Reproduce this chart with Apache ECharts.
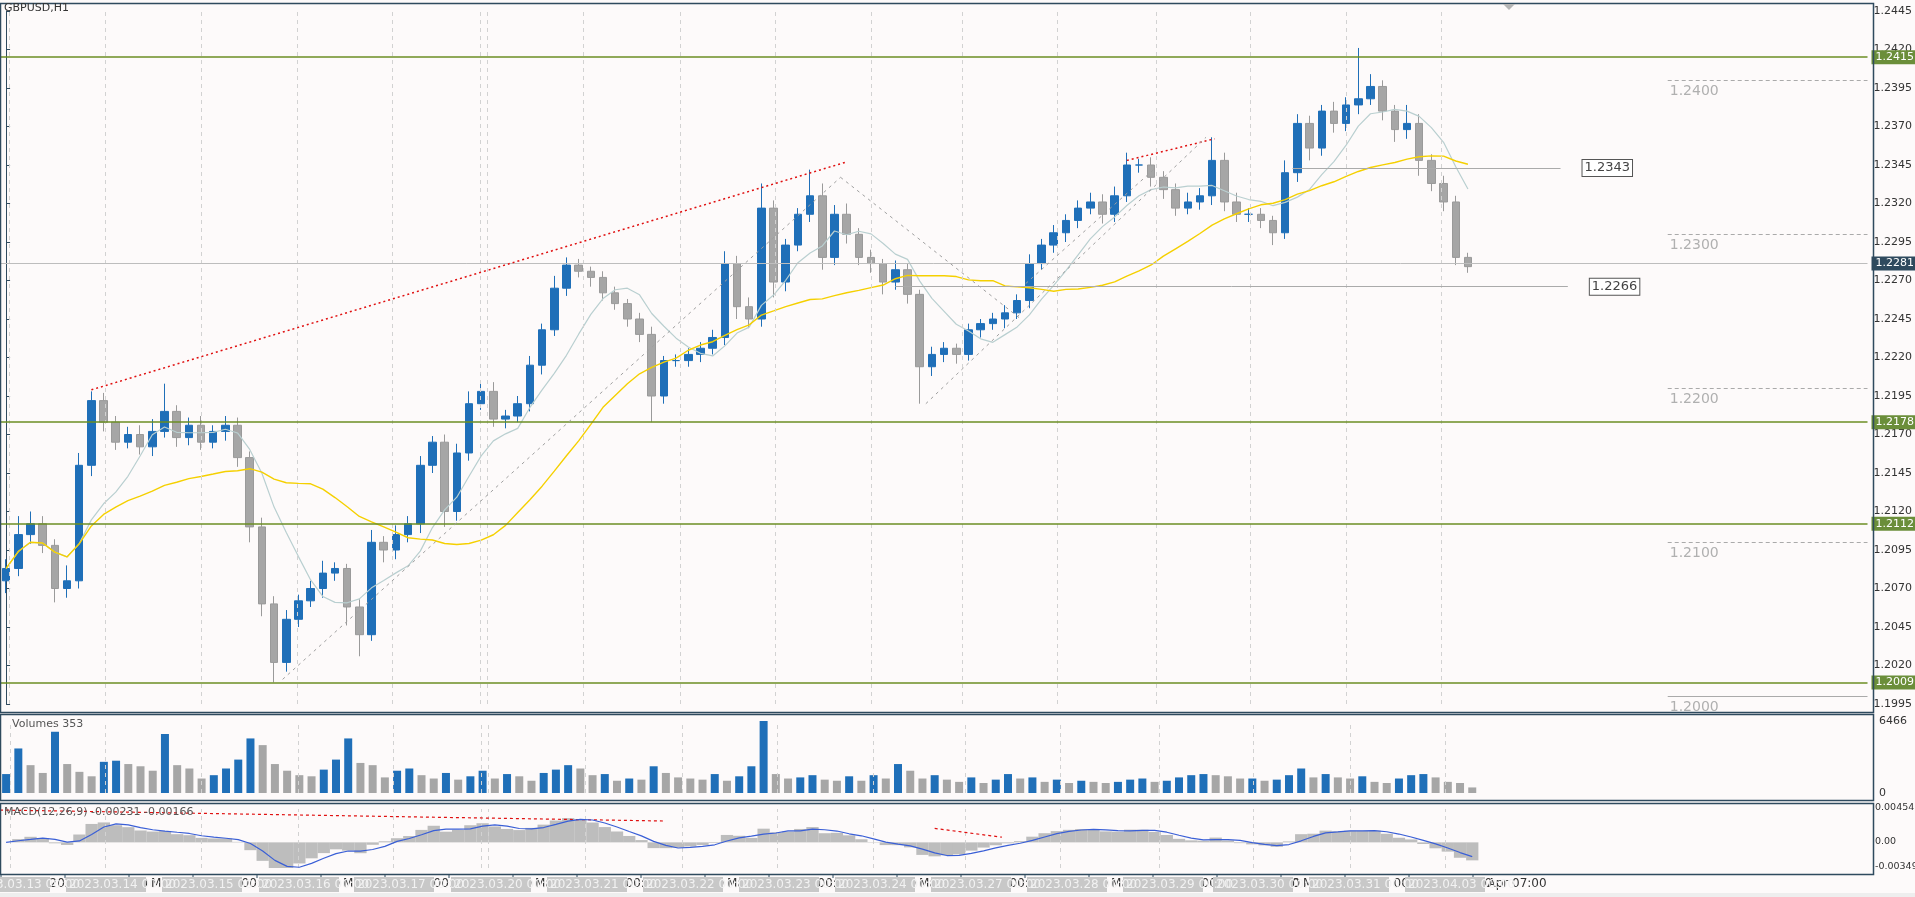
<!DOCTYPE html>
<html><head><meta charset="utf-8">
<script src="https://cdn.jsdelivr.net/npm/echarts@6/dist/echarts.min.js"></script>
<style>html,body{margin:0;padding:0;background:#fdfafa;}#c{width:1915px;height:897px;}</style>
</head><body><div id="c"></div>
<script>
// ---- data (one bar ≈ 3 hours) ----
const closes = [
1.2083,1.2105,1.2112,1.2098,1.2070,1.2075,1.2150,1.2192,1.2178,1.2165,
1.2170,1.2162,1.2172,1.2185,1.2168,1.2176,1.2165,1.2172,1.2176,1.2155,
1.2110,1.2060,1.2022,1.2050,1.2062,1.2070,1.2080,1.2083,1.2058,1.2040,
1.2100,1.2095,1.2105,1.2112,1.2150,1.2165,1.2120,1.2158,1.2190,1.2198,
1.2180,1.2182,1.2190,1.2215,1.2238,1.2265,1.2280,1.2276,1.2272,1.2262,
1.2255,1.2245,1.2235,1.2195,1.2218,1.2218,1.2222,1.2226,1.2233,1.2281,
1.2253,1.2245,1.2317,1.2269,1.2293,1.2313,1.2325,1.2285,1.2313,1.2300,
1.2285,1.2281,1.2269,1.2277,1.2261,1.2214,1.2222,1.2226,1.2222,1.2238,
1.2242,1.2245,1.2249,1.2257,1.2281,1.2293,1.2301,1.2309,1.2317,1.2321,
1.2313,1.2325,1.2345,1.2345,1.2337,1.2329,1.2317,1.2321,1.2325,1.2348,
1.2321,1.2313,1.2313,1.2309,1.2301,1.2340,1.2372,1.2356,1.2380,1.2372,
1.2384,1.2388,1.2396,1.2380,1.2368,1.2372,1.2348,1.2333,1.2321,1.2285,
1.2279];
const firstOpen = 1.2075;
const upperWickPips = [
6,12,8,5,4,10,8,6,5,4, 5,6,8,18,4,5,6,4,6,5, 4,6,5,6,4,5,8,4,3,5, 8,4,6,5,6,4,5,6,8,5,
6,4,5,6,4,8,5,4,3,4, 4,3,4,5,3,4,4,4,5,8, 5,6,16,5,4,4,17,8,6,7, 4,5,3,6,4,3,5,4,3,4,
3,4,5,4,6,4,5,4,5,6, 5,6,8,4,5,4,4,6,5,15, 5,6,4,4,3,8,6,5,4,6, 5,33,8,4,4,12,6,4,5,4, 3];
const lowerWickPips = [
8,5,6,5,9,6,5,7,6,5, 4,5,6,4,6,5,5,4,6,6, 10,8,13,6,5,4,6,5,12,14, 4,8,6,5,6,5,10,6,5,4,
5,6,4,5,6,4,5,4,6,5, 4,5,5,17,5,4,4,5,4,5, 8,6,5,10,6,4,5,8,5,6, 5,6,8,5,6,24,6,5,6,4,
5,4,6,4,5,4,5,6,5,4, 6,5,4,5,6,6,5,4,5,6, 6,5,5,5,8,4,6,8,5,6, 5,6,4,6,8,6,10,5,6,5, 4];
const volumes = [
1700,4000,2500,1800,5500,2600,1900,1500,2800,2900, 2600,2400,2000,5300,2500,2200,1300,1600,2200,3000,
4900,4300,2600,2000,1600,1500,2100,3000,4900,2700, 2500,1400,2000,2200,1600,1300,1800,1200,1500,2000,
1300,1700,1500,1100,1800,2100,2500,2200,1600,1700, 1100,1300,1200,2400,1800,1400,1300,1200,1700,1100,
1500,2400,6466,1700,1300,1400,1600,1200,1100,1500, 1100,1600,1300,2600,2000,1300,1600,1200,1000,1400,
900,1200,1700,1300,1400,1000,1200,900,1100,1000, 900,1000,1200,1300,1000,1100,1400,1600,1700,1600,
1500,1300,1300,1100,1200,1600,2200,1400,1700,1400, 1300,1500,1000,900,1300,1600,1700,1400,1000,900, 500];
const priceTicksMin = 1.1995, priceTicksMax = 1.2445, priceTickStep = 0.0025;
const supportLevels = [1.2415, 1.2178, 1.2112, 1.2009];
const currentPrice = 1.2281;
const roundLevels = [1.2400, 1.2300, 1.2200, 1.2100];
const partialLevels = [{v:1.2343, from:105.6, to:127.6}, {v:1.2266, from:73, to:128.2}];
const redTrends = [[[7,1.2199],[69,1.2347]], [[92,1.2348],[99.2,1.2362]]];
const greyTrends = [[[22.7,1.2011],[68.5,1.2337]], [[68.5,1.2337],[83.3,1.2245]], [[75.5,1.2190],[98.5,1.2363]], [[83.7,1.2268],[94.2,1.2342]]];
const macdTrends = [[[-0.5,0.0044],[54,0.0029]], [[76,0.0019],[81.5,0.0007]]];
const dayLines = [0.3,8.1,16.0,23.9,31.7,38.9,39.5,47.4,55.3,63.1,71.0,78.5,86.3,94.4,102.1,110.0,117.8];
const dateLabels = ['2023.03.13 00:00','2023.03.14 00:00','2023.03.15 00:00','2023.03.16 00:00','2023.03.17 00:00','2023.03.20 00:00','2023.03.21 00:00','2023.03.22 00:00','2023.03.23 00:00','2023.03.24 00:00','2023.03.27 00:00','2023.03.28 00:00','2023.03.29 00:00','2023.03.30 00:00','2023.03.31 00:00','2023.04.03 00:00'];
const dateBoxLeft = [-30,66,162,259,354,451,547,643,739,835,931,1027,1123,1213,1309,1405];
const tickTexts = ['13 Mar 2023','13 Mar 16:00','14 Mar 08:00','15 Mar 00:00','15 Mar 16:00','16 Mar 08:00','17 Mar 00:00','17 Mar 16:00','20 Mar 08:00','21 Mar 00:00','21 Mar 16:00','22 Mar 08:00','23 Mar 00:00','23 Mar 16:00','24 Mar 08:00','27 Mar 00:00','27 Mar 16:00','28 Mar 08:00','29 Mar 00:00','29 Mar 16:00','30 Mar 08:00','31 Mar 00:00','31 Mar 16:00','3 Apr 07:00'];

// ---- build ----
const N = closes.length;
const opens = closes.map((c,i)=> i===0 ? firstOpen : closes[i-1]);
const ohlc = closes.map((c,i)=>{const o=opens[i];return [i,o,c,Math.min(o,c)-lowerWickPips[i]/10000,Math.max(o,c)+upperWickPips[i]/10000];});
function sma(a,p){return a.map((_,i)=>{const s=Math.max(0,i-p+1);let t=0;for(let k=s;k<=i;k++)t+=a[k];return [i,t/(i-s+1)];});}
function ema(a,p){const k=2/(p+1);let e=a[0];return a.map(v=>(e=v*k+e*(1-k)));}
const fast=ema(closes,4), slow=ema(closes,9);
const macdMain=closes.map((_,i)=>fast[i]-slow[i]);
const macdSig=sma(macdMain,3);
const volData=volumes.map((v,i)=>({value:[i,v],itemStyle:{color:(i>0&&v<volumes[i-1])?'#a6a6a6':'#1f6fb8'}}));

const XMIN=-0.5, XMAX=152.8, L=0, R=42;
const grid=[{left:L,right:R,top:11,height:693},{left:L,right:R,top:721,height:72},{left:L,right:R,top:809,height:59}];
function xa(i){return {gridIndex:i,type:'value',min:XMIN,max:XMAX,show:false};}
const gLine={color:'#d2d2d2',type:[4,4],width:1};
function vLines(lo,hi){return dayLines.map(x=>[{coord:[x,lo],lineStyle:gLine,label:{show:false}},{coord:[x,hi]}]);}
function hLine(v,from,to,ls,label){return [{coord:[from,v],lineStyle:ls,label:label||{show:false}},{coord:[to,v]}];}

const mlMain=vLines(priceTicksMin,priceTicksMax);
const axLab={show:true,position:'end',distance:4,color:'#fff',padding:[2,3,1,4],fontSize:11,fontFamily:'DejaVu Sans'};
const rlLab={show:true,position:'insideStartBottom',distance:[2,4],color:'#b0b0b0',fontSize:14,fontFamily:'DejaVu Sans'};
supportLevels.forEach(v=>mlMain.push(hLine(v,XMIN,XMAX,{color:'#6b8e23',width:1.5,type:'solid'},Object.assign({},axLab,{formatter:v.toFixed(4),backgroundColor:'#6b8e3a'}))));
mlMain.push(hLine(currentPrice,XMIN,XMAX,{color:'#bdbdbd',width:1,type:'solid'},Object.assign({},axLab,{formatter:currentPrice.toFixed(4),backgroundColor:'#2f4a5e'})));
roundLevels.forEach(v=>mlMain.push(hLine(v,136.4,XMAX,{color:'#aaaaaa',type:[4,3],width:1},Object.assign({},rlLab,{formatter:v.toFixed(4)}))));
mlMain.push(hLine(1.2000,136.4,XMAX,{color:'#aaaaaa',type:'solid',width:1},Object.assign({},rlLab,{formatter:'1.2000'})));
partialLevels.forEach(p=>mlMain.push(hLine(p.v,p.from,p.to,{color:'#aaaaaa',type:'solid',width:1},{show:true,position:'end',distance:22,formatter:p.v.toFixed(4),color:'#444',backgroundColor:'#fff',borderColor:'#555',borderWidth:1,padding:[2,2,1,2],fontSize:13,fontFamily:'DejaVu Sans'})));
redTrends.forEach(t=>mlMain.push([{coord:t[0],lineStyle:{color:'#e01010',type:[2,3],width:1.5},label:{show:false}},{coord:t[1]}]));
greyTrends.forEach(t=>mlMain.push([{coord:t[0],lineStyle:{color:'#a0a0a0',type:[3,4],width:1},label:{show:false}},{coord:t[1]}]));

const mlVol=vLines(0,6466);
const mlMacd=vLines(-0.00349,0.00454);
macdTrends.forEach(t=>mlMacd.push([{coord:t[0],lineStyle:{color:'#e01010',type:[3,3],width:1.2},label:{show:false}},{coord:t[1]}]));

const chart=echarts.init(document.getElementById('c'));
const option={
 animation:false,backgroundColor:'#fdfafa',
 grid:grid,
 xAxis:[xa(0),xa(1),xa(2)],
 yAxis:[
  {gridIndex:0,type:'value',position:'right',min:priceTicksMin,max:priceTicksMax,interval:priceTickStep,
   axisLine:{show:true,lineStyle:{color:'#2f4a5e'}},axisTick:{show:true,length:4,lineStyle:{color:'#2f4a5e'}},splitLine:{show:false},
   axisLabel:{color:'#333',fontSize:11,fontFamily:'DejaVu Sans',margin:6,formatter:v=>v.toFixed(4)}},
  {gridIndex:1,type:'value',position:'right',min:0,max:6466,interval:6466,axisLine:{show:false},axisTick:{show:false},splitLine:{show:false},
   axisLabel:{color:'#333',fontSize:11,fontFamily:'DejaVu Sans',margin:6,formatter:v=>String(v)}},
  {gridIndex:2,type:'value',position:'right',min:-0.00349,max:0.00454,axisLine:{show:false},axisTick:{show:false},splitLine:{show:false},axisLabel:{show:false}}
 ],
 series:[
  {type:'line',xAxisIndex:0,yAxisIndex:0,data:[],symbol:'none',markLine:{symbol:'none',silent:true,animation:false,data:mlMain},z:2},
  {type:'candlestick',xAxisIndex:0,yAxisIndex:0,barWidth:8,data:ohlc.map(d=>[d[0],d[1],d[2],d[3],d[4]]),encode:{x:0,y:[1,2,3,4]},
   itemStyle:{color:'#1f6fb8',color0:'#a6a6a6',borderColor:'#1f6fb8',borderColor0:'#9a9a9a',borderWidth:1},z:3},
  {type:'line',xAxisIndex:0,yAxisIndex:0,data:sma(closes,7),showSymbol:false,lineStyle:{color:'#b9cfd0',width:1.2},z:4},
  {type:'line',xAxisIndex:0,yAxisIndex:0,data:sma(closes,20),showSymbol:false,lineStyle:{color:'#f5d000',width:1.4},z:4},
  {type:'bar',xAxisIndex:1,yAxisIndex:1,barWidth:8,data:volData,markLine:{symbol:'none',silent:true,data:mlVol}},
  {type:'bar',xAxisIndex:2,yAxisIndex:2,barWidth:12.3,data:macdMain.map((v,i)=>[i,v]),itemStyle:{color:'#bdbdbd'},markLine:{symbol:'none',silent:true,data:mlMacd}},
  {type:'line',xAxisIndex:2,yAxisIndex:2,data:macdSig,showSymbol:false,lineStyle:{color:'#3a5fd6',width:1.2},z:5}
 ],
 graphic:[]
};
const gr=[];
function box(y1,y2){gr.push({type:'rect',shape:{x:0.5,y:y1+0.5,width:1873,height:y2-y1},style:{fill:'none',stroke:'#2f4a5e',lineWidth:1.5},z:100,silent:true});}
box(3,712);box(714,800);box(803,874);
gr.push({type:'text',left:4,top:3,style:{text:'GBPUSD,H1',fill:'#333',font:'11px DejaVu Sans'},z:101});
gr.push({type:'polygon',shape:{points:[[1503,4],[1515,4],[1509,10]]},style:{fill:'#b5b5b5'},z:101});
gr.push({type:'text',left:12,top:719,style:{text:'Volumes 353',fill:'#555',font:'11px DejaVu Sans'},z:101});
gr.push({type:'text',left:4,top:807,style:{text:'MACD(12,26,9) -0.00231 -0.00166',fill:'#555',font:'11px DejaVu Sans'},z:101});
[['0.00454',803],['0.00',837],['-0.00349',862]].forEach(t=>gr.push({type:'text',left:1875,top:t[1],style:{text:t[0],fill:'#333',font:'9.5px DejaVu Sans'},z:101}));
tickTexts.forEach((t,k)=>{const x=1+64*k;gr.push({type:'line',shape:{x1:x,y1:874,x2:x,y2:878},style:{stroke:'#2f4a5e'},z:101});gr.push({type:'text',left:x+3,top:878,style:{text:t,fill:'#333',font:'12px DejaVu Sans'},z:101});});
dateLabels.forEach((t,k)=>{const x=dateBoxLeft[k];gr.push({type:'rect',shape:{x:x,y:877,width:80,height:15},style:{fill:'#c8c8c8'},z:102});gr.push({type:'text',left:x+3,top:879,style:{text:t,fill:'#f2f2f2',font:'12px DejaVu Sans'},z:103});});
gr.push({type:'rect',shape:{x:0,y:893,width:1915,height:4},style:{fill:'#eeeeee'},z:90});
option.graphic=gr;
chart.setOption(option);
</script></body></html>
